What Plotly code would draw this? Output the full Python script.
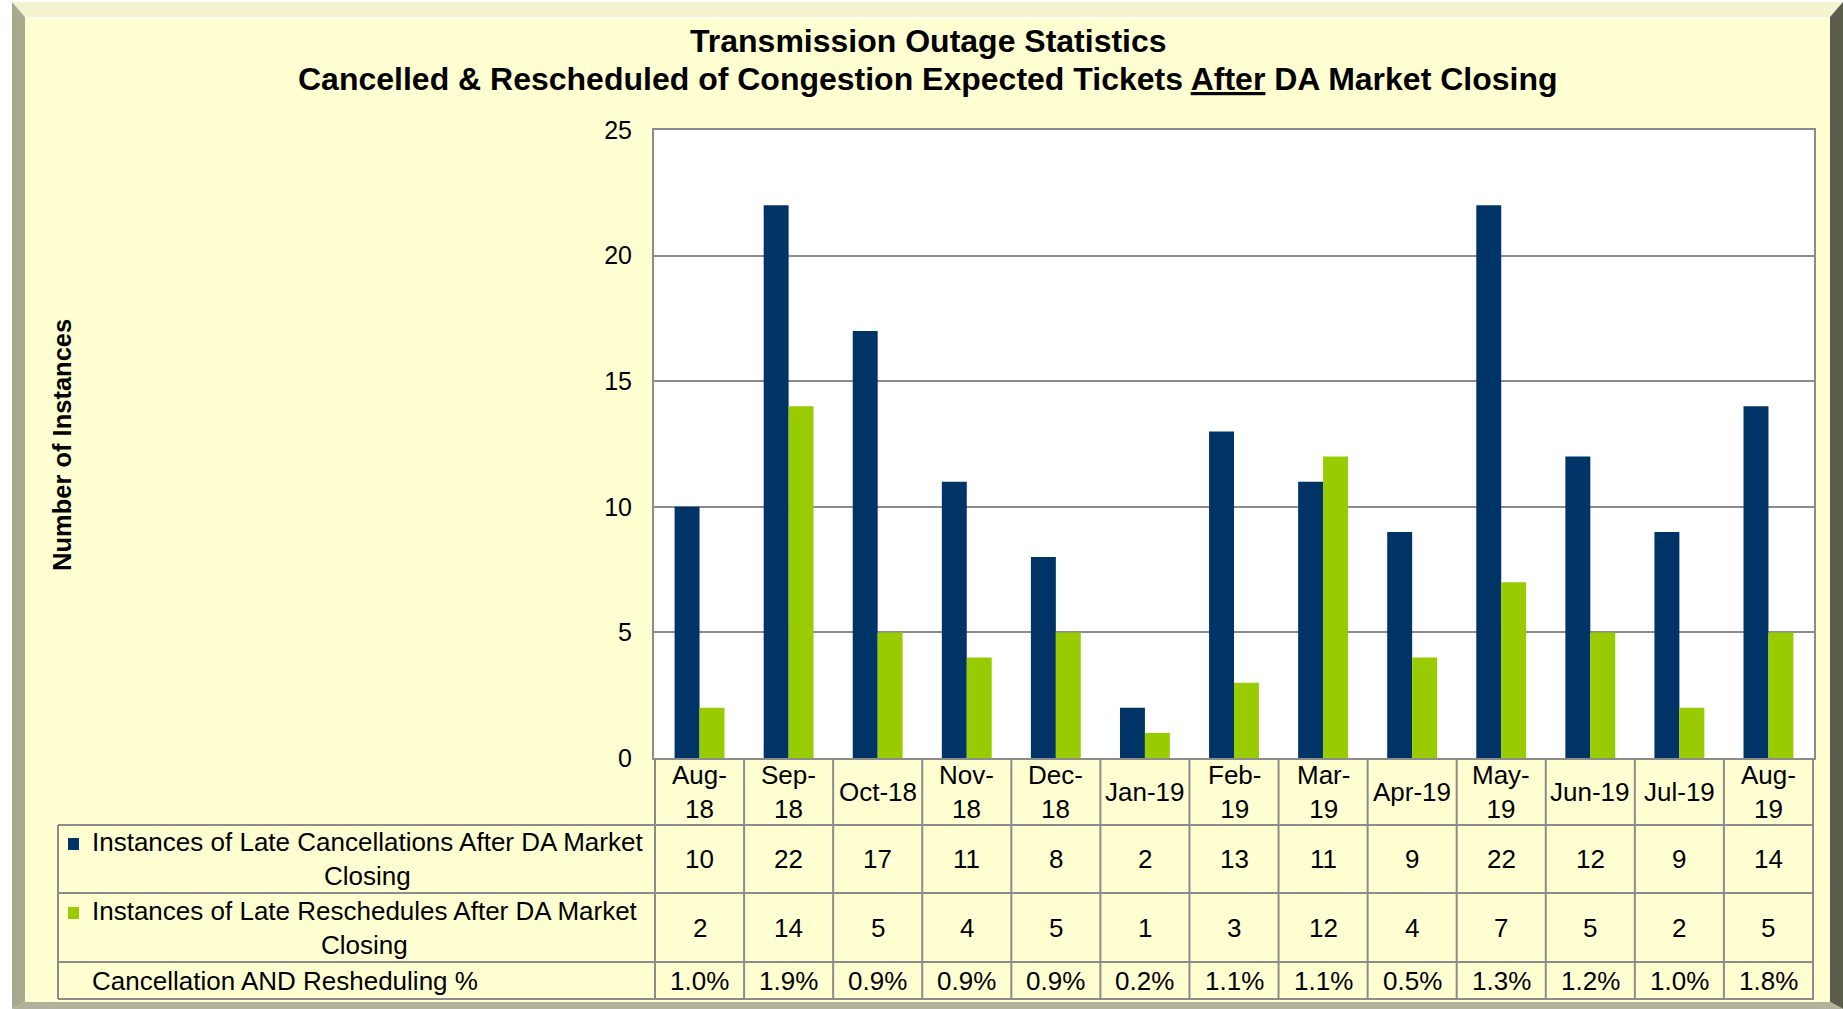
import plotly.graph_objects as go

# ---------------- data ----------------
months = ["Aug-18", "Sep-18", "Oct-18", "Nov-18", "Dec-18", "Jan-19", "Feb-19",
          "Mar-19", "Apr-19", "May-19", "Jun-19", "Jul-19", "Aug-19"]
header_labels = ["Aug-<br>18", "Sep-<br>18", "Oct-18", "Nov-<br>18", "Dec-<br>18", "Jan-19",
                 "Feb-<br>19", "Mar-<br>19", "Apr-19", "May-<br>19", "Jun-19", "Jul-19", "Aug-<br>19"]
cancellations = [10, 22, 17, 11, 8, 2, 13, 11, 9, 22, 12, 9, 14]
reschedules = [2, 14, 5, 4, 5, 1, 3, 12, 4, 7, 5, 2, 5]
pct_labels = ["1.0%", "1.9%", "0.9%", "0.9%", "0.9%", "0.2%", "1.1%",
              "1.1%", "0.5%", "1.3%", "1.2%", "1.0%", "1.8%"]
series_names = ["Instances of Late Cancellations After DA Market<br>Closing",
                "Instances of Late Reschedules After DA Market<br>Closing"]
pct_row_name = "Cancellation AND Resheduling %"
title_lines = ["Transmission Outage Statistics",
               "Cancelled & Rescheduled of Congestion Expected Tickets <u>After</u> DA Market Closing"]
y_title = "Number of Instances"
y_ticks = [0, 5, 10, 15, 20, 25]

# ---------------- style ----------------
W, H = 1843, 1009
L, R, T, B = 654, 29, 130, 251
PW, PH = W - L - R, H - T - B
NAVY = "#003366"
GREEN = "#99CC00"
PANEL = "#FFFFD2"
GRID = "#8C8C8C"
FONT = "Liberation Sans, Arial, sans-serif"


def px_x(p):
    return (p - L) / PW


def px_y(p):
    return (H - B - p) / PH


fig = go.Figure()
fig.add_trace(go.Bar(x=months, y=cancellations, name="Cancellations",
                     marker=dict(color=NAVY, line=dict(width=0))))
fig.add_trace(go.Bar(x=months, y=reschedules, name="Reschedules",
                     marker=dict(color=GREEN, line=dict(width=0))))

shapes = []


def poly(pts, color, layer="below"):
    d = "M " + " L ".join(f"{px_x(x):.5f},{px_y(y):.5f}" for x, y in pts) + " Z"
    shapes.append(dict(type="path", path=d, xref="paper", yref="paper",
                       fillcolor=color, line=dict(width=0), layer=layer))


# frame with bevels
ox0, oy0, ox1, oy1 = 12, 2, 1843, 1009
ix0, iy0, ix1, iy1 = 25, 17, 1830, 1002
poly([(ox0, oy0), (ox1, oy0), (ix1, iy0), (ix0, iy0)], "#F3F3CF")
poly([(ox0, oy0), (ix0, iy0), (ix0, iy1), (ox0, oy1)], "#A9A98F")
poly([(ox1, oy0), (ix1, iy0), (ix1, iy1), (ox1, oy1)], "#5C5C4C")
poly([(ox0, oy1), (ix0, iy1), (ix1, iy1), (ox1, oy1)], "#B2B29C")
poly([(ix0, iy0), (ix1, iy0), (ix1, iy1), (ix0, iy1)], PANEL)
# white highlight under top bevel
shapes.append(dict(type="line", xref="paper", yref="paper", x0=px_x(ix0), x1=px_x(ix1),
                   y0=px_y(iy0 + 1), y1=px_y(iy0 + 1), line=dict(color="#FFFFF4", width=2),
                   layer="below"))
# white plot area
shapes.append(dict(type="rect", xref="paper", yref="paper", x0=0, x1=1, y0=0, y1=1,
                   fillcolor="white", line=dict(width=0), layer="below"))

# table geometry (pixel rows)
row_edges = [758, 825, 893, 962, 999]
tab_left = 58
LINE = dict(color=GRID, width=2)
for yy in row_edges[1:]:
    shapes.append(dict(type="line", xref="paper", yref="paper", x0=px_x(tab_left), x1=1,
                       y0=px_y(yy), y1=px_y(yy), line=LINE, layer="above"))
shapes.append(dict(type="line", xref="paper", yref="paper", x0=px_x(tab_left), x1=px_x(tab_left),
                   y0=px_y(row_edges[1]), y1=px_y(row_edges[-1]), line=LINE, layer="above"))
for i in range(len(months) + 1):
    shapes.append(dict(type="line", xref="x", yref="paper", x0=i - 0.5, x1=i - 0.5,
                       y0=px_y(row_edges[0]), y1=px_y(row_edges[-1]), line=LINE, layer="above"))

# legend keys
for color, yc in [(NAVY, 844), (GREEN, 913)]:
    shapes.append(dict(type="rect", xref="paper", yref="paper", x0=px_x(68), x1=px_x(79),
                       y0=px_y(yc + 6), y1=px_y(yc - 6), fillcolor=color,
                       line=dict(width=0), layer="above"))

annotations = []
TXT = dict(family=FONT, size=26, color="black")
row_centers = [(row_edges[k] + row_edges[k + 1]) / 2 for k in range(4)]
for m, lab, c, r, p in zip(months, header_labels, cancellations, reschedules, pct_labels):
    for text, yc in [(lab, row_centers[0]), (str(c), row_centers[1]),
                     (str(r), row_centers[2]), (p, row_centers[3])]:
        annotations.append(dict(x=m, xref="x", y=px_y(yc), yref="paper", text=text,
                                showarrow=False, xanchor="center", yanchor="middle",
                                font=TXT, align="center"))

for name, yc in [(series_names[0], row_centers[1]), (series_names[1], row_centers[2])]:
    annotations.append(dict(x=px_x(90), xref="paper", y=px_y(yc), yref="paper", text=name,
                            showarrow=False, xanchor="left", yanchor="middle",
                            font=TXT, align="center"))
annotations.append(dict(x=px_x(90), xref="paper", y=px_y(row_centers[3]), yref="paper",
                        text=pct_row_name, showarrow=False, xanchor="left", yanchor="middle",
                        font=TXT, align="left"))

TFONT = dict(family=FONT, size=32, color="black")
for text, yc in zip(title_lines, [41, 79]):
    annotations.append(dict(x=px_x(928), xref="paper", y=px_y(yc), yref="paper",
                            text=f"<b>{text}</b>", showarrow=False, xanchor="center",
                            yanchor="middle", font=TFONT))

annotations.append(dict(x=px_x(62), xref="paper", y=px_y(445), yref="paper",
                        text=f"<b>{y_title}</b>", showarrow=False, textangle=-90,
                        xanchor="center", yanchor="middle",
                        font=dict(family=FONT, size=25.5, color="black")))

fig.update_layout(
    width=W, height=H,
    margin=dict(l=L, r=R, t=T, b=B, pad=0),
    paper_bgcolor="white",
    plot_bgcolor="rgba(0,0,0,0)",
    barmode="group", bargap=0.44, bargroupgap=0,
    showlegend=False,
    shapes=shapes,
    annotations=annotations,
    font=dict(family=FONT, size=25, color="black"),
)
fig.update_xaxes(showticklabels=False, ticks="", showgrid=False,
                 showline=True, linecolor=GRID, linewidth=2, mirror=True)
fig.update_yaxes(range=[0, 25], tickvals=y_ticks, ticks="", ticklabelstandoff=15,
                 showgrid=True, gridcolor=GRID, gridwidth=2, zeroline=False,
                 showline=True, linecolor=GRID, linewidth=2, mirror=True,
                 tickfont=dict(family=FONT, size=25, color="black"))

fig.write_html("out.html",
               config={"displayModeBar": False},
               post_script="document.body.style.margin='0';document.body.style.overflow='hidden';")
